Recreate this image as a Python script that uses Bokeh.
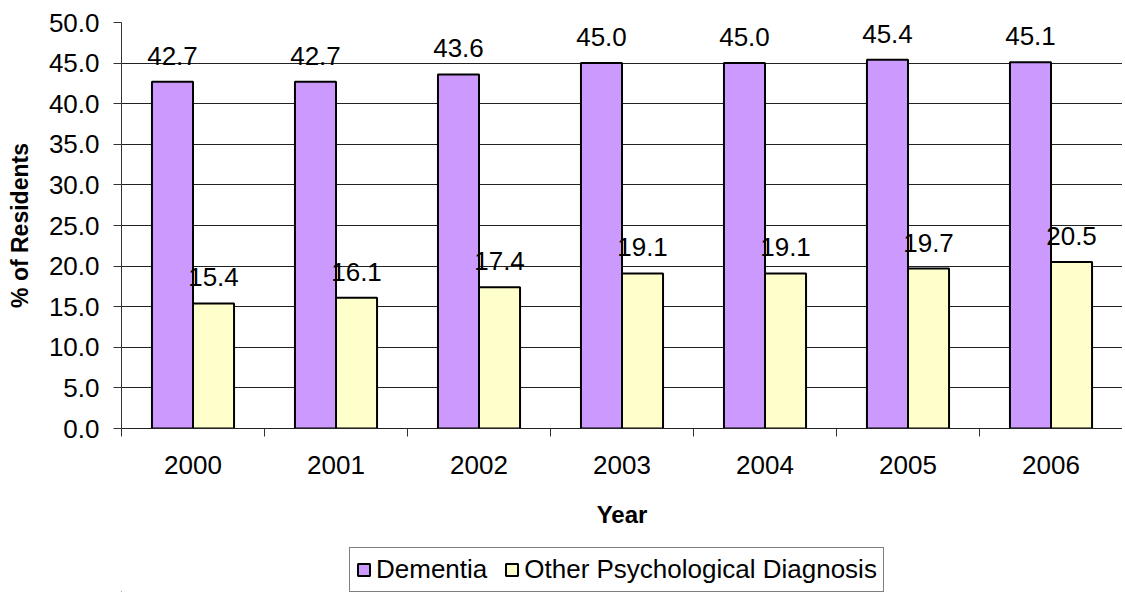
import numpy as np
from bokeh.plotting import figure
from bokeh.layouts import column
from bokeh.models import (ColumnDataSource, Range1d, FixedTicker, NumeralTickFormatter,
                          LabelSet, Legend, LegendItem)
from bokeh.core.properties import value
from bokeh.transform import dodge
from bokeh.embed import file_html
from bokeh.resources import INLINE

years = ["2000", "2001", "2002", "2003", "2004", "2005", "2006"]
dementia = [42.7, 42.7, 43.6, 45.0, 45.0, 45.4, 45.1]
other = [15.4, 16.1, 17.4, 19.1, 19.1, 19.7, 20.5]
y_ticks = [0, 5, 10, 15, 20, 25, 30, 35, 40, 45, 50]
series_names = ["Dementia", "Other Psychological Diagnosis"]
series_colors = ["#CC99FF", "#FFFFCC"]

FONT = "Liberation Sans"
FS = "26px"
centers = [i + 0.5 for i in range(len(years))]
bounds = [float(i) for i in range(len(years) + 1)]

src = ColumnDataSource(dict(
    x=centers,
    dementia=dementia,
    other=other,
    dlab=[f"{v:.1f}" for v in dementia],
    olab=[f"{v:.1f}" for v in other],
))

W = 1122
LEFT = 121
p = figure(width=W, height=540, output_backend="svg", toolbar_location=None,
           x_range=Range1d(0, len(years)), y_range=Range1d(0, 50),
           min_border_left=LEFT, min_border_right=0, min_border_top=22,
           min_border_bottom=112)
p.outline_line_color = None
p.background_fill_color = "white"
p.border_fill_color = "white"

BW = 0.287
OFF = 0.1435
p.vbar(x=dodge("x", -OFF, range=p.x_range), top="dementia", width=BW, source=src,
       fill_color=series_colors[0], line_color="black", line_width=2)
p.vbar(x=dodge("x", OFF, range=p.x_range), top="other", width=BW, source=src,
       fill_color=series_colors[1], line_color="black", line_width=2)

for col, lab, off in (("dementia", "dlab", -OFF), ("other", "olab", OFF)):
    ls = LabelSet(x=dodge("x", off, range=p.x_range), y=col, text=lab, source=src,
                  text_align="center", text_baseline="alphabetic", y_offset=17,
                  text_font=value(FONT), text_font_size=FS, text_color="black")
    p.add_layout(ls)

# grid
p.xgrid.grid_line_color = None
p.ygrid.grid_line_color = "#222222"
p.ygrid.grid_line_width = 1
p.ygrid.ticker = FixedTicker(ticks=y_ticks)

# y axis
p.yaxis.ticker = FixedTicker(ticks=y_ticks, minor_ticks=[])
p.yaxis.formatter = NumeralTickFormatter(format="0.0")
p.yaxis.axis_line_color = "#333333"
p.yaxis.major_tick_line_color = "#333333"
p.yaxis.major_tick_out = 8
p.yaxis.major_tick_in = 0
p.yaxis.major_label_standoff = 14
p.yaxis.major_label_text_font = FONT
p.yaxis.major_label_text_font_size = FS
p.yaxis.major_label_text_color = "black"
p.yaxis.axis_label = "% of Residents"
p.yaxis.axis_label_text_font = FONT
p.yaxis.axis_label_text_font_size = "23px"
p.yaxis.axis_label_text_font_style = "bold"
p.yaxis.axis_label_text_color = "black"
p.yaxis.axis_label_standoff = 13

# x axis
p.xaxis.ticker = FixedTicker(ticks=centers, minor_ticks=bounds)
p.xaxis.major_label_overrides = {c: y for c, y in zip(centers, years)}
p.xaxis.axis_line_color = "#222222"
p.xaxis.major_tick_line_color = None
p.xaxis.major_tick_out = 8
p.xaxis.major_tick_in = 0
p.xaxis.minor_tick_line_color = "#333333"
p.xaxis.minor_tick_out = 8
p.xaxis.minor_tick_in = 0
p.xaxis.major_label_standoff = 19
p.xaxis.major_label_text_font = FONT
p.xaxis.major_label_text_font_size = FS
p.xaxis.major_label_text_color = "black"
p.xaxis.axis_label = "Year"
p.xaxis.axis_label_text_font = FONT
p.xaxis.axis_label_text_font_size = "24px"
p.xaxis.axis_label_text_font_style = "bold"
p.xaxis.axis_label_text_color = "black"
p.xaxis.axis_label_standoff = 24

# legend strip (separate figure below the chart); swatch renderers sit outside its ranges
p2 = figure(width=W, height=52, output_backend="svg", toolbar_location=None,
            x_range=Range1d(0, 1), y_range=Range1d(0, 1),
            min_border_left=LEFT, min_border_right=0, min_border_top=0, min_border_bottom=0)
p2.axis.visible = False
p2.grid.grid_line_color = None
p2.outline_line_color = None
items = []
for name, color in zip(series_names, series_colors):
    rr = p2.vbar(x=[-5], top=[-5], bottom=[-6], width=0.1,
                 fill_color=color, line_color="black", line_width=2)
    items.append(LegendItem(label=name, renderers=[rr]))
legend = Legend(items=items, orientation="horizontal", location=(349 - LEFT, 0),
                label_text_font=FONT, label_text_font_size=FS, label_text_color="black",
                glyph_width=15, glyph_height=15, label_standoff=5, spacing=17,
                padding=6, margin=0, border_line_color="black", border_line_width=1,
                label_height=20, background_fill_color="white")
p2.add_layout(legend, "center")

layout = column(p, p2, spacing=0)
open("out.html", "w").write(file_html(layout, INLINE))
